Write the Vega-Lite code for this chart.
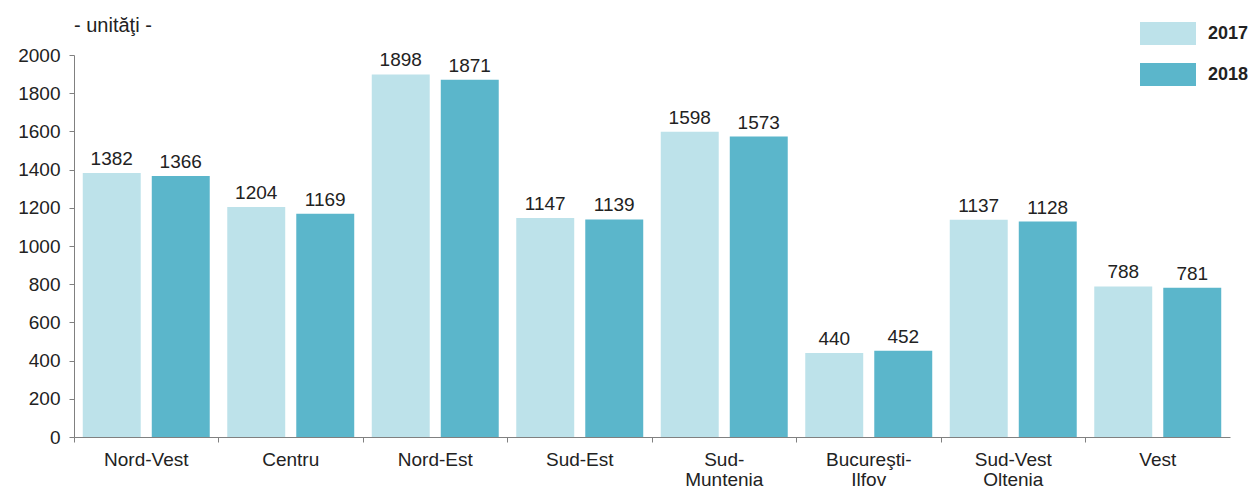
{
  "$schema": "https://vega.github.io/schema/vega-lite/v6.json",
  "width": 1156,
  "height": 382,
  "autosize": {"type": "none"},
  "padding": {"left": 74, "top": 55, "right": 28, "bottom": 51},
  "background": "white",
  "title": {
    "text": "- unităţi -",
    "anchor": "start",
    "frame": "group",
    "font": "Liberation Sans",
    "fontSize": 20,
    "fontWeight": "normal",
    "color": "#222222",
    "offset": -14
  },
  "data": {
    "values": [
      {"region": "Nord-Vest", "year": "2017", "value": 1382},
      {"region": "Nord-Vest", "year": "2018", "value": 1366},
      {"region": "Centru", "year": "2017", "value": 1204},
      {"region": "Centru", "year": "2018", "value": 1169},
      {"region": "Nord-Est", "year": "2017", "value": 1898},
      {"region": "Nord-Est", "year": "2018", "value": 1871},
      {"region": "Sud-Est", "year": "2017", "value": 1147},
      {"region": "Sud-Est", "year": "2018", "value": 1139},
      {"region": "Sud-Muntenia", "year": "2017", "value": 1598},
      {"region": "Sud-Muntenia", "year": "2018", "value": 1573},
      {"region": "Bucureşti-Ilfov", "year": "2017", "value": 440},
      {"region": "Bucureşti-Ilfov", "year": "2018", "value": 452},
      {"region": "Sud-Vest Oltenia", "year": "2017", "value": 1137},
      {"region": "Sud-Vest Oltenia", "year": "2018", "value": 1128},
      {"region": "Vest", "year": "2017", "value": 788},
      {"region": "Vest", "year": "2018", "value": 781}
    ]
  },
  "encoding": {
    "x": {
      "field": "region",
      "type": "nominal",
      "sort": null,
      "scale": {"paddingInner": 0, "paddingOuter": 0},
      "axis": {
        "title": null,
        "labelAngle": 0,
        "bandPosition": 0,
        "labelFont": "Liberation Sans",
        "labelFontSize": 19,
        "labelColor": "#222222",
        "labelLineHeight": 20,
        "labelPadding": 8,
        "tickSize": 5,
        "tickColor": "#808080",
        "domainColor": "#808080",
        "labelExpr": "datum.label == 'Sud-Muntenia' ? ['Sud-', 'Muntenia'] : datum.label == 'Bucureşti-Ilfov' ? ['Bucureşti-', 'Ilfov'] : datum.label == 'Sud-Vest Oltenia' ? ['Sud-Vest', 'Oltenia'] : datum.label"
      }
    },
    "xOffset": {
      "field": "year",
      "type": "nominal",
      "scale": {"paddingInner": 0.16, "paddingOuter": 0.127}
    },
    "y": {
      "field": "value",
      "type": "quantitative",
      "scale": {"domain": [0, 2000], "nice": false},
      "axis": {
        "title": null,
        "values": [0, 200, 400, 600, 800, 1000, 1200, 1400, 1600, 1800, 2000],
        "format": "d",
        "grid": false,
        "labelFont": "Liberation Sans",
        "labelFontSize": 19,
        "labelColor": "#222222",
        "labelPadding": 9,
        "tickSize": 5,
        "tickColor": "#808080",
        "domainColor": "#808080"
      }
    }
  },
  "layer": [
    {
      "mark": {"type": "bar"},
      "encoding": {
        "color": {
          "field": "year",
          "type": "nominal",
          "scale": {"domain": ["2017", "2018"], "range": ["#BDE2EA", "#5BB6CB"]},
          "legend": {
            "title": null,
            "orient": "none",
            "legendX": 1066,
            "legendY": -33,
            "symbolType": "M-1,-0.41H1V0.41H-1Z",
            "symbolSize": 3136,
            "symbolStrokeWidth": 0,
            "clipHeight": 23,
            "rowPadding": 18,
            "labelOffset": 12,
            "labelFont": "Liberation Sans",
            "labelFontSize": 18,
            "labelFontWeight": "bold",
            "labelColor": "#222222"
          }
        }
      }
    },
    {
      "mark": {
        "type": "text",
        "baseline": "alphabetic",
        "dy": -8,
        "font": "Liberation Sans",
        "fontSize": 19,
        "color": "#222222"
      },
      "encoding": {
        "text": {"field": "value", "type": "quantitative"}
      }
    }
  ],
  "config": {
    "view": {"stroke": null}
  }
}
